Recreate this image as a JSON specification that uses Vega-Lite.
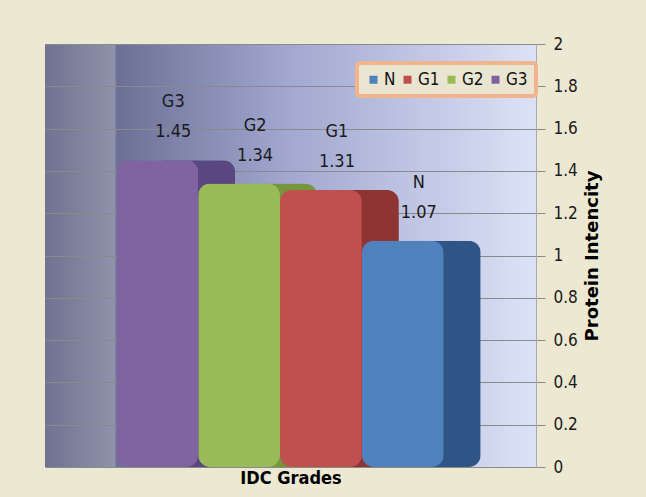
{
  "$schema": "https://vega.github.io/schema/vega-lite/v6.json",
  "width": 491,
  "height": 423,
  "padding": {"left": 45, "top": 35, "right": 44, "bottom": 10},
  "background": "#ECE8D2",
  "config": {
    "view": {
      "stroke": null,
      "fill": {
        "gradient": "linear",
        "x1": 0, "y1": 0, "x2": 1, "y2": 0,
        "stops": [
          {"offset": 0, "color": "#6F7390"},
          {"offset": 0.142, "color": "#8E92AA"},
          {"offset": 0.146, "color": "#6C7096"},
          {"offset": 0.5, "color": "#A2A8D0"},
          {"offset": 1, "color": "#DCE2F6"}
        ]
      }
    },
    "font": "DejaVu Sans Condensed, sans-serif"
  },
  "data": {
    "values": [
      {"grade": "G3", "value": 1.45},
      {"grade": "G2", "value": 1.34},
      {"grade": "G1", "value": 1.31},
      {"grade": "N", "value": 1.07}
    ]
  },
  "encoding": {
    "x": {
      "field": "grade",
      "type": "nominal",
      "sort": ["G3", "G2", "G1", "N"],
      "scale": {"paddingInner": 0, "paddingOuter": 1.147, "align": 0.436},
      "axis": {
        "labels": false, "ticks": false, "domain": false,
        "title": "IDC Grades",
        "titleFont": "DejaVu Sans Condensed, sans-serif",
        "titleFontSize": 18, "titleFontWeight": "bold", "titleColor": "#000000",
        "titlePadding": 2
      }
    },
    "y": {
      "field": "value",
      "type": "quantitative",
      "scale": {"domain": [0, 2]},
      "axis": {
        "orient": "right",
        "values": [0, 0.2, 0.4, 0.6, 0.8, 1, 1.2, 1.4, 1.6, 1.8, 2],
        "format": "~g",
        "labelFont": "DejaVu Sans Condensed, sans-serif",
        "labelFontSize": 17,
        "labelColor": "#1A1A1A",
        "labelPadding": 8,
        "tickSize": 9,
        "tickColor": "#8A8A8A",
        "domainColor": "#A8A8B8",
        "gridColor": "#8A8A8A",
        "gridWidth": 1.2,
        "title": "Protein Intencity",
        "titleAngle": 270,
        "titleBaseline": "top",
        "titleFont": "DejaVu Sans, sans-serif",
        "titleFontSize": 18,
        "titleFontWeight": "bold",
        "titleColor": "#000000",
        "titlePadding": 6
      }
    }
  },
  "layer": [
    {
      "mark": {"type": "bar", "xOffset": 37, "cornerRadius": 12},
      "encoding": {
        "color": {
          "field": "grade",
          "type": "nominal",
          "scale": {"domain": ["N", "G1", "G2", "G3"], "range": ["#2E5585", "#8E3533", "#75963C", "#5A4680"]},
          "legend": null
        }
      }
    },
    {
      "mark": {"type": "bar", "cornerRadius": 12},
      "encoding": {
        "color": {
          "field": "grade",
          "type": "nominal",
          "scale": {"domain": ["N", "G1", "G2", "G3"], "range": ["#4F81BD", "#C0504D", "#9BBB59", "#8064A2"]},
          "legend": {
            "title": null,
            "orient": "none",
            "legendX": 312,
            "legendY": 19,
            "direction": "horizontal",
            "columns": 4,
            "symbolType": "square",
            "symbolSize": 64,
            "symbolStrokeWidth": 0,
            "labelFont": "DejaVu Sans Condensed, sans-serif",
            "labelFontSize": 17,
            "labelColor": "#111111",
            "columnPadding": 3,
            "labelOffset": 2,
            "fillColor": "#EAE5D0",
            "strokeColor": "#F2B48C",
            "padding": 8,
            "cornerRadius": 3,
            "encode": {"legend": {"update": {"strokeWidth": {"value": 4}}}}
          }
        }
      }
    },
    {
      "mark": {"type": "text", "dx": 16, "dy": -58, "fontSize": 18, "color": "#1A1A1A", "font": "DejaVu Sans Condensed, sans-serif"},
      "encoding": {"text": {"field": "grade"}}
    },
    {
      "mark": {"type": "text", "dx": 16, "dy": -28, "fontSize": 18, "color": "#1A1A1A", "font": "DejaVu Sans Condensed, sans-serif"},
      "encoding": {"text": {"field": "value", "format": ".2f"}}
    }
  ],
  "resolve": {"scale": {"color": "independent"}}
}
